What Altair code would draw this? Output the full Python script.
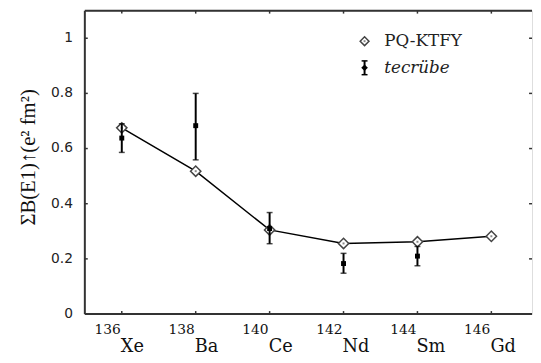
import altair as alt
import pandas as pd

# ---- data ----
mass = [136, 138, 140, 142, 144, 146]
mass_label = ["136", "138", "140", "142", "144", "146"]
element = ["Xe", "Ba", "Ce", "Nd", "Sm", "Gd"]
theory = [0.675, 0.518, 0.305, 0.256, 0.262, 0.282]          # PQ-KTFY
exp_mass = [136, 138, 140, 142, 144]
exp_val = [0.638, 0.683, 0.310, 0.183, 0.210]                 # tecrübe
exp_lo = [0.586, 0.559, 0.255, 0.148, 0.175]
exp_hi = [0.690, 0.800, 0.368, 0.220, 0.245]
y_ticks = [0, 0.2, 0.4, 0.6, 0.8, 1.0]
y_tick_labels = ["0", "0.2", "0.4", "0.6", "0.8", "1"]
legend_labels = ["PQ-KTFY", "tecrübe"]
y_title = "ΣB(E1)↑(e² fm²)"

W, H = 454, 308
FRAME = "#333333"
SERIF = "DejaVu Serif"

theory_df = pd.DataFrame({"mass": mass, "val": theory, "ml": mass_label, "el": element})
exp_df = pd.DataFrame({"mass": exp_mass, "val": exp_val, "lo": exp_lo, "hi": exp_hi})
ytick_df = pd.DataFrame({"v": y_ticks, "t": y_tick_labels})
one = pd.DataFrame({"a": [0]})

xs = alt.Scale(domain=[135, 147.1], nice=False, zero=False)
ys = alt.Scale(domain=[0, 1.1], nice=False, zero=True)

Xn = alt.X("mass:Q", scale=xs, axis=None)
Yv = alt.Y("val:Q", scale=ys, axis=None)

line = alt.Chart(theory_df).mark_line(color="black", strokeWidth=1.5).encode(x=Xn, y=Yv)

diam = alt.Chart(theory_df).mark_point(shape="diamond", size=110, filled=True, fill="white",
                                       stroke="#444", strokeWidth=1.5, opacity=1).encode(x=Xn, y=Yv)
diam_dot = alt.Chart(theory_df).mark_point(shape="square", size=4, filled=True, color="#555").encode(
    x=Xn, y=Yv)

err = alt.Chart(exp_df).mark_rule(color="black", strokeWidth=2).encode(
    x=Xn, y=alt.Y("lo:Q", scale=ys, axis=None), y2="hi:Q")
cap_lo = alt.Chart(exp_df).mark_tick(orient="horizontal", color="black", size=6, thickness=1.5).encode(
    x=Xn, y=alt.Y("lo:Q", scale=ys, axis=None))
cap_hi = alt.Chart(exp_df).mark_tick(orient="horizontal", color="black", size=6, thickness=1.5).encode(
    x=Xn, y=alt.Y("hi:Q", scale=ys, axis=None))
sq = alt.Chart(exp_df).mark_point(shape="square", size=25, filled=True, color="black", opacity=1).encode(
    x=Xn, y=Yv)

# frame: left, bottom, top borders
left = alt.Chart(one).mark_rule(color=FRAME, strokeWidth=2).encode(
    x=alt.value(0), y=alt.value(0), y2=alt.value(H))
bottom = alt.Chart(one).mark_rule(color=FRAME, strokeWidth=2).encode(
    x=alt.value(0), x2=alt.value(W), y=alt.value(H))
top = alt.Chart(one).mark_rule(color=FRAME, strokeWidth=2).encode(
    x=alt.value(0), x2=alt.value(W), y=alt.value(0))

# inward ticks
lt = alt.Chart(ytick_df).mark_rule(color=FRAME, strokeWidth=1.5).encode(
    y=alt.Y("v:Q", scale=ys, axis=None), x=alt.value(0), x2=alt.value(3))
rt = alt.Chart(ytick_df).mark_rule(color=FRAME, strokeWidth=1.5).encode(
    y=alt.Y("v:Q", scale=ys, axis=None), x=alt.value(W - 3), x2=alt.value(W))
bt = alt.Chart(theory_df).mark_rule(color=FRAME, strokeWidth=1.5).encode(
    x=Xn, y=alt.value(H - 3), y2=alt.value(H))
tt = alt.Chart(theory_df).mark_rule(color=FRAME, strokeWidth=1.5).encode(
    x=Xn, y=alt.value(0), y2=alt.value(3))

# y tick labels and title
ylab = alt.Chart(ytick_df).mark_text(align="right", baseline="middle", font="DejaVu Sans",
                                     fontSize=14, color="#222").encode(
    y=alt.Y("v:Q", scale=ys, axis=None), x=alt.value(-12), text="t:N")
ytitle = alt.Chart(one).mark_text(angle=270, align="center", baseline="middle",
                                  font="Liberation Serif", fontSize=21, color="#111").encode(
    x=alt.value(-57), y=alt.value(H / 2 - 5), text=alt.value(y_title))

# x tick labels (mass number as superscript + element)
lab_m = alt.Chart(theory_df).mark_text(align="right", baseline="alphabetic", font=SERIF,
                                       fontSize=14, dx=-1, color="#111").encode(
    x=Xn, y=alt.value(328), text="ml:N")
lab_e = alt.Chart(theory_df).mark_text(align="left", baseline="alphabetic", font=SERIF,
                                       fontSize=18, dx=-1, color="#111").encode(
    x=Xn, y=alt.value(347), text="el:N")

# legend
lg_d = alt.Chart(one).mark_point(shape="diamond", size=80, filled=True, fill="white",
                                 stroke="#444", strokeWidth=1.5, opacity=1).encode(
    x=alt.value(284), y=alt.value(31))
lg_dd = alt.Chart(one).mark_point(shape="square", size=4, filled=True, color="#555").encode(
    x=alt.value(284), y=alt.value(31))
lg_t1 = alt.Chart(one).mark_text(align="left", baseline="middle", font=SERIF, fontSize=17,
                                 color="#222").encode(
    x=alt.value(304), y=alt.value(31), text=alt.value(legend_labels[0]))
lg_r = alt.Chart(one).mark_rule(color="black", strokeWidth=2).encode(
    x=alt.value(284), y=alt.value(51), y2=alt.value(65))
lg_c1 = alt.Chart(one).mark_rule(color="black", strokeWidth=1.5).encode(
    x=alt.value(281), x2=alt.value(287), y=alt.value(51))
lg_c2 = alt.Chart(one).mark_rule(color="black", strokeWidth=1.5).encode(
    x=alt.value(281), x2=alt.value(287), y=alt.value(65))
lg_m = alt.Chart(one).mark_point(shape="diamond", size=45, filled=True, color="black", opacity=1).encode(
    x=alt.value(284), y=alt.value(58))
lg_t2 = alt.Chart(one).mark_text(align="left", baseline="middle", font=SERIF, fontSize=17,
                                 fontStyle="italic", color="#222").encode(
    x=alt.value(304), y=alt.value(58), text=alt.value(legend_labels[1]))

chart = alt.layer(
    line, diam, diam_dot, err, cap_lo, cap_hi, sq,
    left, bottom, top, lt, rt, bt, tt, ylab, ytitle, lab_m, lab_e,
    lg_d, lg_dd, lg_t1, lg_r, lg_c1, lg_c2, lg_m, lg_t2,
).properties(
    width=W, height=H,
    autosize=alt.AutoSizeParams(type="none"),
    padding={"left": 78, "top": 0, "right": 1, "bottom": 46},
).configure_view(stroke=None).configure(background="white")

chart.save("out.html", embed_options={"renderer": "svg", "actions": False})
